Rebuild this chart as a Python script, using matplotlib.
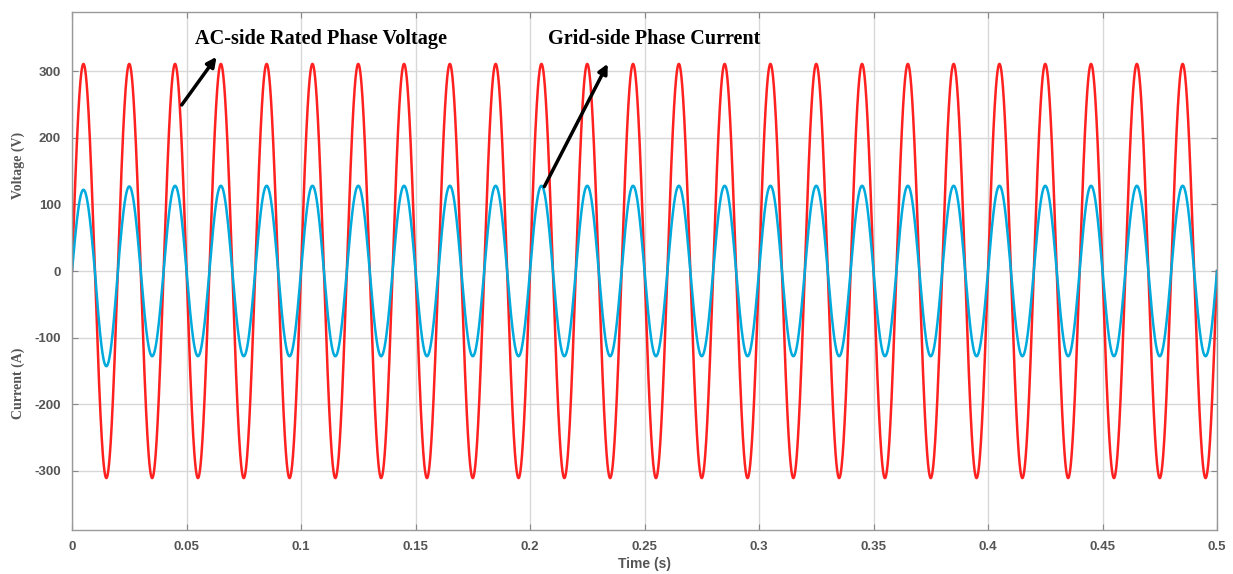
import numpy as np
import matplotlib
matplotlib.use("Agg")
import matplotlib.pyplot as plt

plt.rcParams["axes.unicode_minus"] = False
plt.rcParams["font.family"] = ["Liberation Sans", "DejaVu Sans"]

# signal parameters
freq = 50.0                # Hz, 25 cycles in 0.5 s
t_end = 0.5
v_peak = 311.0             # AC-side rated phase voltage amplitude (V)

# grid-side current: extreme value of each half-cycle (A), start-up transient then steady
i_peaks = [122, 127, 128, 128, 128, 128, 128, 128, 128, 128, 128, 128, 128,
           128, 128, 128, 128, 128, 128, 128, 128, 128, 128, 128, 128]
i_troughs = [-143, -128, -128, -128, -128, -128, -128, -128, -128, -128, -128,
             -128, -128, -128, -128, -128, -128, -128, -128, -128, -128, -128,
             -128, -128, -128]

xticks = [0, 0.05, 0.1, 0.15, 0.2, 0.25, 0.3, 0.35, 0.4, 0.45, 0.5]
xticklabels = ["0", "0.05", "0.1", "0.15", "0.2", "0.25", "0.3", "0.35", "0.4", "0.45", "0.5"]
yticks = [-300, -200, -100, 0, 100, 200, 300]

t = np.linspace(0, t_end, 10001)
base = np.sin(2 * np.pi * freq * t)
voltage = v_peak * base

# scale each half-cycle of the unit sine by the read extreme
half = np.minimum((t * 2 * freq).astype(int), 2 * len(i_peaks) - 1)
env = np.where(half % 2 == 0,
               np.array(i_peaks)[half // 2],
               -np.array(i_troughs)[half // 2])
current = env * base

grey = "#555555"
fig = plt.figure(figsize=(12.33, 5.74), dpi=100)
ax = fig.add_axes([72 / 1233, 1 - 530 / 574, 1145 / 1233, 518 / 574])

ax.plot(t, voltage, color="#ff2020", lw=1.8)
ax.plot(t, current, color="#00aadd", lw=1.8)

ax.set_xlim(0, t_end)
ax.set_ylim(-389, 389)
ax.set_xticks(xticks)
ax.set_xticklabels(xticklabels)
ax.set_yticks(yticks)
ax.grid(True, color="#d8d8d8", lw=1.0)
ax.tick_params(direction="in", length=4, color="#888888", labelcolor=grey,
               labelsize=9.5, top=True, right=True, pad=8)
for lab in ax.get_xticklabels() + ax.get_yticklabels():
    lab.set_fontweight("bold")
for s in ax.spines.values():
    s.set_color("#999999")
    s.set_linewidth(1.0)

ax.set_xlabel("Time (s)", color=grey, fontsize=10, fontweight="bold", labelpad=3)

serif = ["Liberation Serif", "DejaVu Serif"]
fig.text(18 / 1233, 1 - 165 / 574, "Voltage (V)", rotation=90, ha="center", va="center",
         color=grey, fontsize=10, fontweight="bold", family=serif)
fig.text(18 / 1233, 1 - 383 / 574, "Current (A)", rotation=90, ha="center", va="center",
         color=grey, fontsize=10, fontweight="bold", family=serif)

ax.annotate("", xy=(0.0638, 325), xytext=(0.0472, 246),
            arrowprops=dict(arrowstyle="-|>", color="black", lw=2.5, mutation_scale=14))
ax.annotate("", xy=(0.2345, 315), xytext=(0.2057, 123),
            arrowprops=dict(arrowstyle="-|>", color="black", lw=2.5, mutation_scale=14))
ax.text(0.0537, 348, "AC-side Rated Phase Voltage", fontsize=14.6, fontweight="bold",
        family=serif, va="center", ha="left")
ax.text(0.2079, 348, "Grid-side Phase Current", fontsize=14.5, fontweight="bold",
        family=serif, va="center", ha="left")

fig.savefig("out.png", dpi=100)
